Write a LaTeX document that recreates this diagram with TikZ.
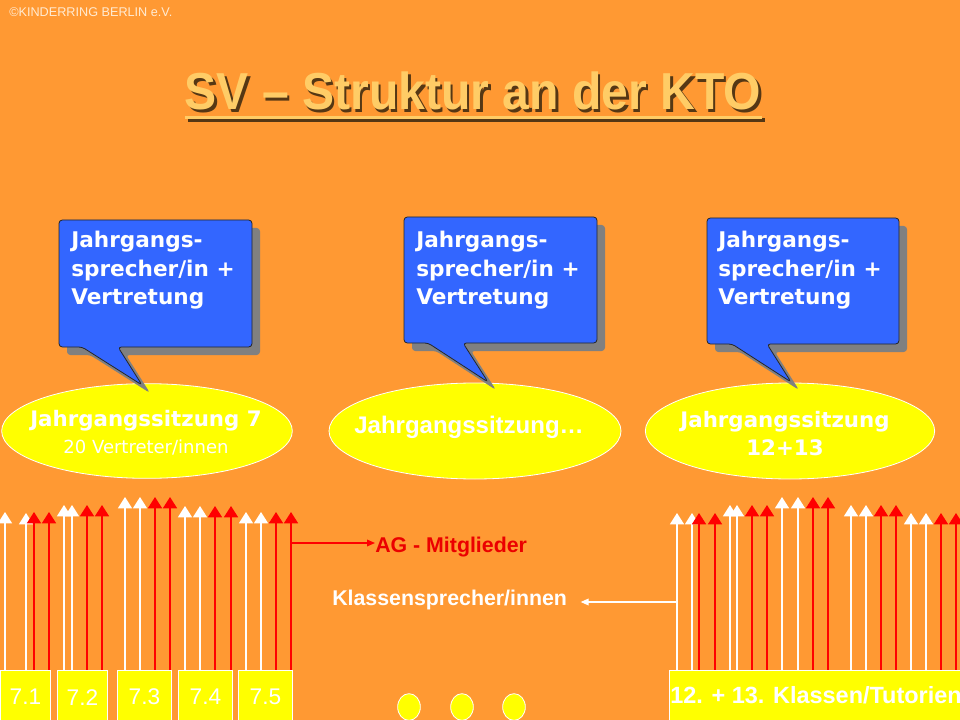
\documentclass[tikz,border=0pt]{standalone}
\usepackage{fontspec}
\setmainfont{Liberation Sans}
\newfontfamily\dvs{DejaVu Sans}
\usepackage{graphicx}
\usetikzlibrary{shapes.geometric,arrows.meta}
\definecolor{bg}{RGB}{255,153,51}
\definecolor{cblue}{RGB}{51,102,255}
\definecolor{yel}{RGB}{255,255,0}
\definecolor{ttl}{RGB}{255,204,102}
\definecolor{shd}{RGB}{85,55,20}
\definecolor{sgray}{RGB}{128,128,128}
\definecolor{agred}{RGB}{235,0,0}
\definecolor{copyc}{RGB}{255,235,210}
\newcommand\sprechblase[8]{%
  \begin{scope}[shift={(8,8)}]
    \fill[bshadow] (#1,#2) -- (#3,#2) -- (#3,#4) -- (#6,#4) -- (#7,#8) -- (#5,#4) -- (#1,#4) -- cycle;
  \end{scope}
  \draw[bubble] (#1,#2) -- (#3,#2) -- (#3,#4) -- (#6,#4) -- (#7,#8) -- (#5,#4) -- (#1,#4) -- cycle;
}
\tikzset{
  bubble/.style={fill=cblue, draw=black!85, line width=0.6pt, rounded corners=2.5pt},
  bshadow/.style={fill=sgray, rounded corners=2.5pt},
  btext/.style={text=white, font=\dvs\bfseries\fontsize{16.2}{21.4}\selectfont, align=left, anchor=north west, inner sep=0pt},
  sitz/.style={ellipse, fill=yel, draw=white, line width=0.6pt, inner sep=0pt},
  stxt/.style={text=white, anchor=base, inner sep=0pt},
  warr/.style={draw=white, line width=1.1pt, -{Triangle[width=10.5pt,length=8.5pt]}},
  rarr/.style={draw=red, line width=1.3pt, -{Triangle[width=10.5pt,length=8.5pt]}},
  klasse/.style={fill=yel, draw=white, line width=0.75pt, anchor=north west, inner sep=0pt, text=white, font=\fontsize{17}{20}\selectfont},
  dot/.style={ellipse, fill=yel, draw=white, line width=0.6pt, minimum width=17pt, minimum height=20pt, inner sep=0pt},
  titletext/.style={anchor=base, inner sep=0pt, font=\bfseries\fontsize{39}{46}\selectfont},
}
\begin{document}
\begin{tikzpicture}[x=0.75pt,y=-0.75pt]
\useasboundingbox (0,0) rectangle (960,720);
\clip (0,0) rectangle (960,720);
\fill[bg] (0,0) rectangle (960,720);

% copyright
\node[anchor=base west, inner sep=0pt, text=copyc, font=\fontsize{9.5}{11}\selectfont] (copy) at (9,17) {©KINDERRING BERLIN e.V.};

% title with shadow and underline
\fill[shd] (187.5,118.5) rectangle (764.5,122);
\fill[ttl] (185,116) rectangle (762,119.5);
\node[titletext, text=shd] (titleshadow) at (475.5,112.5) {\scalebox{0.925}[1]{SV – Struktur an der KTO}};
\node[titletext, text=ttl] (title) at (473,110) {\scalebox{0.925}[1]{SV – Struktur an der KTO}};

% Jahrgangssitzungen
\node[sitz, minimum width=218pt, minimum height=71pt] (e1) at (147,431) {};
\node[sitz, minimum width=219pt, minimum height=72pt] (e2) at (475,431) {};
\node[sitz, minimum width=217pt, minimum height=72pt] (e3) at (790,431) {};
\node[stxt, font=\dvs\bfseries\fontsize{16}{19}\selectfont] (e1a) at (146,426) {Jahrgangssitzung 7};
\node[stxt, font=\dvs\fontsize{13.5}{16}\selectfont] (e1b) at (146,453) {20 Vertreter/innen};
\node[stxt, font=\bfseries\fontsize{18}{21}\selectfont] (e2a) at (469,433) {Jahrgangssitzung…};
\node[stxt, font=\dvs\bfseries\fontsize{16}{19}\selectfont] (e3a) at (785,427) {Jahrgangssitzung};
\node[stxt, font=\dvs\bfseries\fontsize{16}{19}\selectfont] (e3b) at (785,455) {12+13};

% speech bubbles
\sprechblase{59}{220}{252}{347}{82}{118}{142}{385}
\sprechblase{404}{217}{597}{343}{428}{463}{488}{382}
\sprechblase{707}{218}{899}{344}{732}{767}{791}{382}
\node[btext] (s1) at (71,231) {Jahrgangs-\\sprecher/in +\\Vertretung};
\node[btext] (s2) at (416,231) {Jahrgangs-\\sprecher/in +\\Vertretung};
\node[btext] (s3) at (718,231) {Jahrgangs-\\sprecher/in +\\Vertretung};

% class arrows, left group
\foreach \x/\t in {5/512,26/513,64/505,72/505,125/497,140/497,185/506,200/506,246/512,261/512}
  \draw[warr] (\x,670) -- (\x,\t);
\foreach \x/\t in {34/512,49/512,87/505,102/505,155/497,170/497,215/506,231/506,276/512,291/512}
  \draw[rarr] (\x,670) -- (\x,\t);
% class arrows, right group
\foreach \x/\t in {677/513,692/513,730/505,737/505,782/497,798/497,851/505,866/505,911/513,926/513}
  \draw[warr] (\x,670) -- (\x,\t);
\foreach \x/\t in {699/513,715/513,752/505,767/505,813/497,828/497,881/505,896/505,941/513,956/513}
  \draw[rarr] (\x,670) -- (\x,\t);

% labels
\node[anchor=base west, inner sep=0pt, text=agred, font=\bfseries\fontsize{16}{19}\selectfont] (ag) at (375,552) {AG - Mitglieder};
\node[anchor=base west, inner sep=0pt, text=white, font=\bfseries\fontsize{16}{19}\selectfont] (ks) at (332,605) {Klassensprecher/innen};
\coordinate (agstart) at (291,543);
\coordinate (ksstart) at (677,602);
\draw[red, line width=0.9pt, -{Triangle[width=5pt,length=6pt]}] (agstart) -- (agstart -| ag.west);
\draw[white, line width=0.9pt, -{Triangle[width=5pt,length=6pt]}] (ksstart) -- ([xshift=10pt]ksstart -| ks.east);

% class boxes
\node[klasse, minimum width=37.5pt, minimum height=40pt] (b71) at (0,670) {7.1};
\node[klasse, minimum width=37.5pt, minimum height=40pt] (b72) at (57,670) {7.2};
\node[klasse, minimum width=40.5pt, minimum height=40pt] (b73) at (117,670) {7.3};
\node[klasse, minimum width=40.5pt, minimum height=40pt] (b74) at (178,670) {7.4};
\node[klasse, minimum width=40.5pt, minimum height=40pt] (b75) at (238,670) {7.5};
\node[klasse, minimum width=230pt, minimum height=40pt] (b12) at (669,670) {};
\node[anchor=base west, inner sep=0pt, text=white, font=\bfseries\fontsize{17.6}{21}\selectfont] (b12t) at (670,703) {12. + 13. Klassen/Tutorien};

% dots
\node[dot] (d1) at (409,707) {};
\node[dot] (d2) at (462,707) {};
\node[dot] (d3) at (514,707) {};
\end{tikzpicture}
\end{document}
